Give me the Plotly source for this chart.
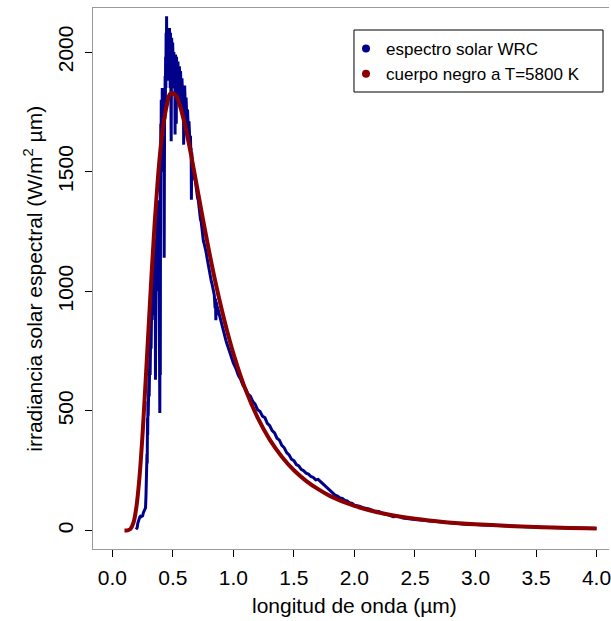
import plotly.graph_objects as go

# ---- data ----
wl_wrc = [
    0.195, 0.200, 0.205, 0.210, 0.214, 0.218, 0.222, 0.226, 0.232, 0.238, 0.244, 0.250, 0.256, 0.262, 0.268, 0.274, 0.278,
    0.280, 0.282, 0.284, 0.286, 0.288, 0.290, 0.292, 0.294, 0.296, 0.298, 0.300, 0.302, 0.304, 0.306, 0.308,
    0.310, 0.312, 0.314, 0.316, 0.318, 0.320, 0.322, 0.324, 0.326, 0.328, 0.330,
    0.332, 0.334, 0.336, 0.338, 0.340, 0.342, 0.344, 0.346, 0.348, 0.350, 0.352, 0.354, 0.356, 0.358,
    0.360, 0.362, 0.364, 0.366, 0.368, 0.370, 0.372, 0.374, 0.376, 0.378, 0.380, 0.382, 0.384, 0.386,
    0.388, 0.390, 0.392, 0.394, 0.396, 0.398,
    0.400, 0.402, 0.404, 0.406, 0.408, 0.410, 0.412, 0.414, 0.416, 0.418, 0.420, 0.422, 0.424, 0.426,
    0.428, 0.430, 0.432, 0.434, 0.436, 0.438, 0.440, 0.442, 0.444, 0.446, 0.448, 0.450,
    0.452, 0.454, 0.456, 0.458, 0.460, 0.462, 0.464, 0.466, 0.468, 0.470, 0.472, 0.474, 0.476, 0.478,
    0.480, 0.482, 0.484, 0.486, 0.488, 0.490, 0.492, 0.494, 0.496, 0.498, 0.500,
    0.502, 0.504, 0.506, 0.508, 0.510, 0.512, 0.514, 0.516, 0.518, 0.520, 0.522, 0.524, 0.526, 0.528,
    0.530, 0.532, 0.534, 0.536, 0.538, 0.540, 0.542, 0.544, 0.546, 0.548, 0.550, 0.552, 0.554, 0.556,
    0.558, 0.560,
    0.563, 0.566, 0.569, 0.572, 0.575, 0.578, 0.581, 0.584, 0.587, 0.589, 0.591, 0.594, 0.597, 0.600,
    0.603, 0.606, 0.609, 0.612, 0.615, 0.618, 0.621, 0.624, 0.627, 0.630, 0.633, 0.636, 0.639, 0.642,
    0.645, 0.648, 0.651, 0.653, 0.656, 0.660,
    0.665, 0.670, 0.675, 0.680, 0.686, 0.692, 0.698, 0.704, 0.710, 0.716, 0.722, 0.728, 0.734, 0.740,
    0.746, 0.752, 0.758, 0.764, 0.770, 0.776, 0.782, 0.788, 0.794, 0.800, 0.806, 0.812, 0.818, 0.824,
    0.830, 0.836, 0.842, 0.849, 0.852, 0.855, 0.858, 0.863, 0.866, 0.869, 0.875, 0.882, 0.890, 0.898,
    0.906, 0.914, 0.922, 0.930, 0.938, 0.946, 0.954, 0.962, 0.970, 0.978, 0.986, 0.994, 1.000,
    1.02, 1.04, 1.06, 1.08, 1.10, 1.12, 1.14, 1.16, 1.18, 1.20, 1.22, 1.24, 1.26, 1.28, 1.30, 1.32,
    1.34, 1.36, 1.38, 1.40, 1.42, 1.44, 1.46, 1.48, 1.50, 1.52, 1.54, 1.56, 1.58, 1.60, 1.62, 1.64,
    1.66, 1.68, 1.70, 1.72, 1.74, 1.76, 1.78, 1.80, 1.82, 1.84, 1.86, 1.88, 1.90, 1.92, 1.94, 1.96,
    1.98, 2.00, 2.04, 2.08, 2.12, 2.16, 2.20, 2.24, 2.28, 2.32, 2.36, 2.40,
    2.50, 2.60, 2.70, 2.80, 2.90, 3.00, 3.20, 3.40, 3.60, 3.80, 4.00]
irr_wrc = [
    5, 8, 12, 30, 38, 40, 52, 56, 60, 58, 60, 62, 75, 82, 90, 95, 150,
    180, 260, 210, 320, 280, 470, 400, 540, 480, 600, 520, 640, 560, 700, 610,
    760, 650, 800, 700, 880, 760, 940, 820, 1000, 880, 1060,
    920, 1100, 960, 1130, 900, 1080, 980, 1150, 1000, 1180, 950, 1120, 630, 1150,
    1020, 1220, 1080, 1260, 1100, 1300, 1000, 1280, 1150, 1380, 1200, 1100, 1320, 1000,
    1250, 900, 491, 1100, 650, 1450,
    1700, 1550, 1800, 1620, 1760, 1500, 1850, 1680, 1800, 1700, 1820, 1650, 1780, 1400,
    1140, 1500, 1850, 1720, 1900, 1800, 1980, 1850, 2080, 1900, 2150, 1950,
    2120, 1960, 2100, 1900, 2090, 1950, 2080, 1880, 2090, 1920, 2100, 1900, 2060, 1850,
    2080, 1880, 2060, 1627, 1900, 2060, 1870, 2040, 1850, 2040, 1880,
    1900, 2030, 1880, 2000, 1850, 1990, 1860, 1950, 1655, 1900, 1990, 1820, 1960, 1700,
    1980, 1850, 1960, 1820, 1950, 1830, 1960, 1800, 1940, 1820, 1930, 1790, 1940, 1800,
    1910, 1780,
    1920, 1790, 1900, 1770, 1890, 1760, 1890, 1760, 1850, 1613, 1840, 1750, 1860, 1740,
    1830, 1720, 1810, 1700, 1780, 1680, 1760, 1660, 1740, 1640, 1710, 1620, 1690, 1600,
    1650, 1580, 1600, 1383, 1580, 1540,
    1530, 1505, 1500, 1470, 1460, 1430, 1420, 1390, 1380, 1340, 1340, 1300, 1290, 1250,
    1240, 1210, 1200, 1190, 1170, 1160, 1140, 1120, 1110, 1090, 1075, 1060, 1040, 1030,
    1010, 1000, 985, 930, 970, 879, 955, 940, 900, 935, 920, 905, 885, 870,
    855, 840, 825, 808, 795, 782, 770, 760, 750, 730, 722, 705, 700,
    678, 650, 632, 606, 594, 572, 562, 540, 528, 505, 498, 478, 472, 448, 438, 418,
    408, 386, 378, 356, 346, 326, 316, 298, 292, 276, 270, 256, 250, 240, 236, 226,
    222, 212, 214, 204, 196, 184, 176, 164, 158, 148, 144, 136, 134, 126, 124, 116,
    114, 106, 102, 94, 90, 82, 80, 70, 66, 58, 60, 52,
    46, 41, 36, 32, 28, 25, 20, 16, 13, 11, 9]

wl_bb = [0.100, 0.125, 0.150, 0.175, 0.200, 0.225, 0.250, 0.275, 0.300, 0.325, 0.350, 0.375, 0.400,
         0.425, 0.450, 0.475, 0.500, 0.525, 0.550, 0.600, 0.650, 0.700, 0.750, 0.800, 0.850, 0.900,
         0.950, 1.000, 1.100, 1.200, 1.300, 1.400, 1.500, 1.600, 1.700, 1.800, 2.000, 2.250, 2.500,
         2.750, 3.000, 3.500, 4.000]
irr_bb = [0, 1, 7, 34, 104, 229, 407, 626, 855, 1082, 1289, 1465, 1606,
          1709, 1778, 1824, 1828, 1818, 1789, 1695, 1571, 1434, 1297, 1165, 1042, 931,
          830, 740, 589, 472, 380, 309, 252, 208, 173, 144, 103, 70, 49,
          35, 26, 15, 9]

x_ticks = [0.0, 0.5, 1.0, 1.5, 2.0, 2.5, 3.0, 3.5, 4.0]
y_ticks = [0, 500, 1000, 1500, 2000]
legend_names = ["espectro solar WRC", "cuerpo negro a T=5800 K"]

BLUE = "#00008B"
RED = "#8B0000"
FONT = "Liberation Sans, Arial, Helvetica, sans-serif"

# plot area in pixels: left 93, top 8, width 518, height 541
PW, PH = 518, 541

fig = go.Figure()
fig.add_trace(go.Scatter(x=wl_wrc, y=irr_wrc, mode="lines",
                         line=dict(color=BLUE, width=3), showlegend=False, hoverinfo="skip"))
fig.add_trace(go.Scatter(x=wl_bb, y=irr_bb, mode="lines",
                         line=dict(color=RED, width=4, shape="spline", smoothing=1.0),
                         showlegend=False, hoverinfo="skip"))
# legend entries (dots)
fig.add_trace(go.Scatter(x=[None], y=[None], mode="markers", name=legend_names[0],
                         marker=dict(color=BLUE, size=8)))
fig.add_trace(go.Scatter(x=[None], y=[None], mode="markers", name=legend_names[1],
                         marker=dict(color=RED, size=8)))

fig.update_layout(
    width=611, height=621,
    margin=dict(l=93, r=0, t=8, b=72),
    paper_bgcolor="white", plot_bgcolor="white",
    font=dict(family=FONT, size=21, color="black"),
    showlegend=True,
    legend=dict(x=(347 - 93) / PW, y=1 - (31 - 8) / PH, xanchor="left", yanchor="top",
                borderwidth=0, bgcolor="rgba(0,0,0,0)",
                font=dict(size=17, family=FONT), itemwidth=30,
                tracegroupgap=0),
    shapes=[dict(type="rect", xref="paper", yref="paper",
                 x0=(355 - 93) / PW, x1=(605 - 93) / PW,
                 y0=1 - (92 - 8) / PH, y1=1 - (30 - 8) / PH,
                 line=dict(color="black", width=1), fillcolor="rgba(0,0,0,0)")],
    xaxis=dict(range=[-0.16, 4.103], tickvals=x_ticks,
               ticktext=[f"{v:.1f}" for v in x_ticks],
               showgrid=False, zeroline=False,
               showline=True, linecolor="#999999", linewidth=1, mirror=True,
               ticks="outside", ticklen=7, tickcolor="black", tickwidth=1,
               ticklabelstandoff=3, ticklabeloverflow="allow"),
    yaxis=dict(range=[-77, 2184], tickvals=y_ticks,
               ticktext=[str(v) for v in y_ticks],
               showgrid=False, zeroline=False,
               showline=True, linecolor="#999999", linewidth=1, mirror=False,
               ticks="outside", ticklen=7, tickcolor="black", tickwidth=1,
               tickangle=-90, ticklabelstandoff=4),
    annotations=[
        dict(text="longitud de onda (µm)", xref="paper", yref="paper",
             x=(355.5 - 93) / PW, y=-(605 - 549) / PH, xanchor="center", yanchor="middle",
             showarrow=False, font=dict(size=21, family=FONT)),
        dict(text="irradiancia solar espectral (W/m<sup>2</sup> µm)", xref="paper", yref="paper",
             x=-(93 - 32) / PW, y=0.5, xanchor="center", yanchor="middle", textangle=-90,
             showarrow=False, font=dict(size=21, family=FONT)),
    ],
)

fig.write_html("out.html")
